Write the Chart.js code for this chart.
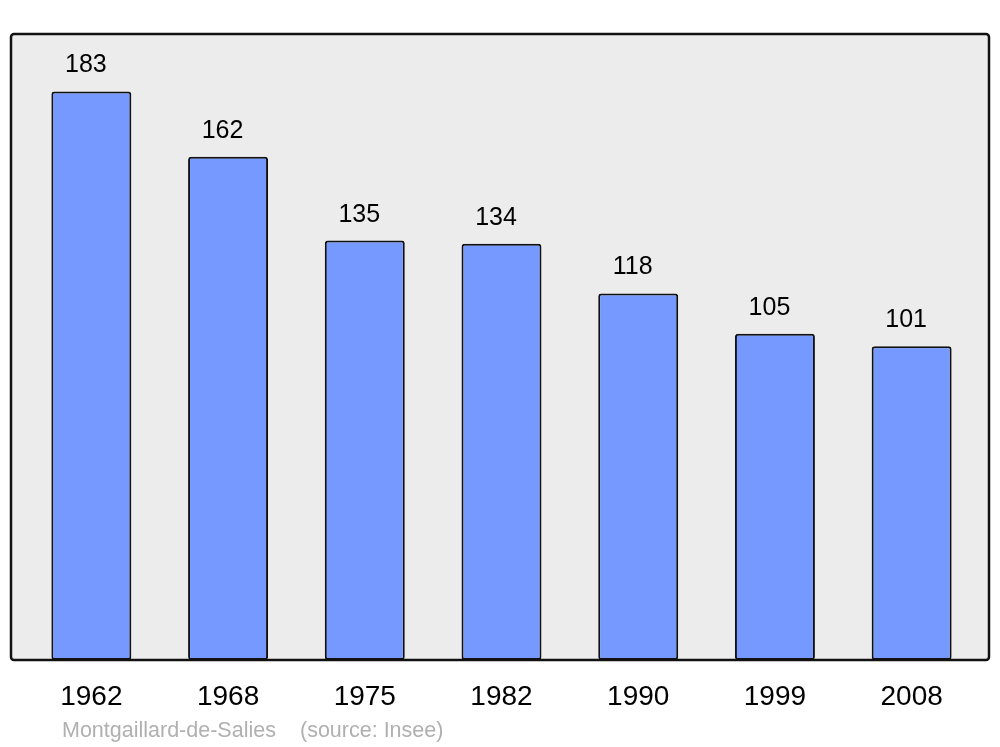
<!DOCTYPE html>
<html>
<head>
<meta charset="utf-8">
<script src="https://cdn.jsdelivr.net/npm/chart.js@4.4.1/dist/chart.umd.min.js"></script>
<style>
html,body{margin:0;padding:0;background:#fff;}
#wrap{width:1000px;height:747px;position:relative;}
</style>
</head>
<body>
<div id="wrap"><canvas id="c" width="1000" height="747"></canvas></div>
<script>
const years = ["1962", "1968", "1975", "1982", "1990", "1999", "2008"];
const population = [183, 162, 135, 134, 118, 105, 101];
const commune = "Montgaillard-de-Salies";
const source = "(source: Insee)";

const framePlugin = {
  id: 'frame',
  beforeDraw(chart) {
    const {ctx, chartArea: a} = chart;
    const x0 = a.left - 12, x1 = a.right + 9, y0 = a.top, y1 = a.bottom;
    ctx.save();
    ctx.beginPath();
    ctx.roundRect(x0, y0, x1 - x0, y1 - y0, 3);
    ctx.fillStyle = '#ececec';
    ctx.fill();
    ctx.restore();
  },
  afterDatasetsDraw(chart) {
    const {ctx, chartArea: a} = chart;
    const x0 = a.left - 12, x1 = a.right + 9, y0 = a.top, y1 = a.bottom;
    ctx.save();
    ctx.beginPath();
    ctx.roundRect(x0, y0, x1 - x0, y1 - y0, 3);
    ctx.lineWidth = 2.5;
    ctx.strokeStyle = '#111';
    ctx.stroke();
    // value labels
    const meta = chart.getDatasetMeta(0);
    ctx.fillStyle = '#000';
    ctx.font = '25px "Liberation Sans", Arial, sans-serif';
    ctx.textAlign = 'center';
    ctx.textBaseline = 'alphabetic';
    meta.data.forEach((bar, i) => {
      ctx.fillText(String(population[i]), bar.x - 5.5, bar.y - 19);
    });
    // footer
    ctx.fillStyle = '#b0b0b0';
    ctx.font = '21.5px "Liberation Sans", Arial, sans-serif';
    ctx.textAlign = 'left';
    ctx.fillText(commune, 62, 737);
    ctx.fillText(source, 300, 737);
    ctx.restore();
  }
};

new Chart(document.getElementById('c'), {
  type: 'bar',
  data: {
    labels: years,
    datasets: [{
      data: population,
      backgroundColor: '#7599ff',
      borderColor: '#111',
      borderWidth: 2,
      borderRadius: 3,
      borderSkipped: false,
      barPercentage: 0.585,
      categoryPercentage: 1.0
    }]
  },
  options: {
    responsive: false,
    animation: false,
    events: [],
    layout: { padding: { left: 23, right: 20, top: 34, bottom: 0 } },
    plugins: { legend: { display: false }, tooltip: { enabled: false }, title: { display: false } },
    scales: {
      x: {
        grid: { display: false, drawTicks: false },
        border: { display: false },
        ticks: {
          color: '#000',
          padding: 20,
          font: { family: '"Liberation Sans", Arial, sans-serif', size: 28 }
        },
        afterFit(scale) { scale.height = 87; }
      },
      y: {
        display: false,
        min: 0,
        max: 201.5
      }
    }
  },
  plugins: [framePlugin]
});
</script>
</body>
</html>
